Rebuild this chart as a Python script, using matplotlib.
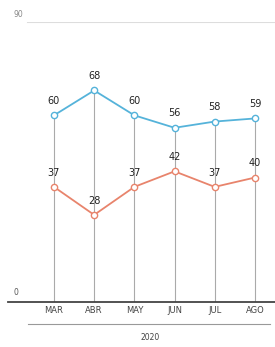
import matplotlib.pyplot as plt

months = ['MAR', 'ABR', 'MAY', 'JUN', 'JUL', 'AGO']
year = '2020'
blue_vals = [60, 68, 60, 56, 58, 59]
red_vals = [37, 28, 37, 42, 37, 40]

blue = '#55b3da'
red = '#e8846c'
txt = '#222222'

fig = plt.figure(figsize=(2.75, 3.47), dpi=100)
ax = fig.add_axes([8 / 275, 45 / 347, 267 / 275, 280 / 347])
x = list(range(len(months)))

ax.set_xlim(-1.144, 5.5)
ax.set_ylim(0, 90)

# vertical guide lines from the top series down to the axis
for xi, b in zip(x, blue_vals):
    ax.plot([xi, xi], [0, b], color='#aaaaaa', lw=0.8, zorder=1)

ax.axhline(90, xmin=0.07, color='#dddddd', lw=0.8, zorder=0)

ax.plot(x, blue_vals, color=blue, lw=1.3, marker='o', ms=4.5,
        mfc='white', mec=blue, mew=1.0, zorder=3)
ax.plot(x, red_vals, color=red, lw=1.3, marker='o', ms=4.5,
        mfc='white', mec=red, mew=1.0, zorder=3)

for xi, v in zip(x, blue_vals):
    ax.text(xi, v + 3.0, str(v), ha='center', va='bottom', fontsize=7,
            color=txt)
for xi, v in zip(x, red_vals):
    ax.text(xi, v + 3.0, str(v), ha='center', va='bottom', fontsize=7,
            color=txt)

ax.text(-1.0, 91, '90', fontsize=5.5, color='#888888', ha='left', va='bottom')
ax.text(-1.0, 1.5, '0', fontsize=5.5, color='#555555', ha='left', va='bottom')

for s in ['top', 'right', 'left']:
    ax.spines[s].set_visible(False)
ax.spines['bottom'].set_color('#444444')
ax.spines['bottom'].set_linewidth(1.3)
ax.set_yticks([])
ax.set_xticks(x)
ax.set_xticklabels(months, fontsize=6, color='#444444')
ax.tick_params(axis='x', length=0, pad=3)

# year bracket line and label
fig.add_artist(plt.Line2D([28 / 275, 270 / 275], [23 / 347, 23 / 347],
                          color='#999999', lw=0.8))
fig.text(150 / 275, 10 / 347, year, fontsize=5.5, color='#444444',
         ha='center', va='center')

fig.savefig('out.png', dpi=100)
